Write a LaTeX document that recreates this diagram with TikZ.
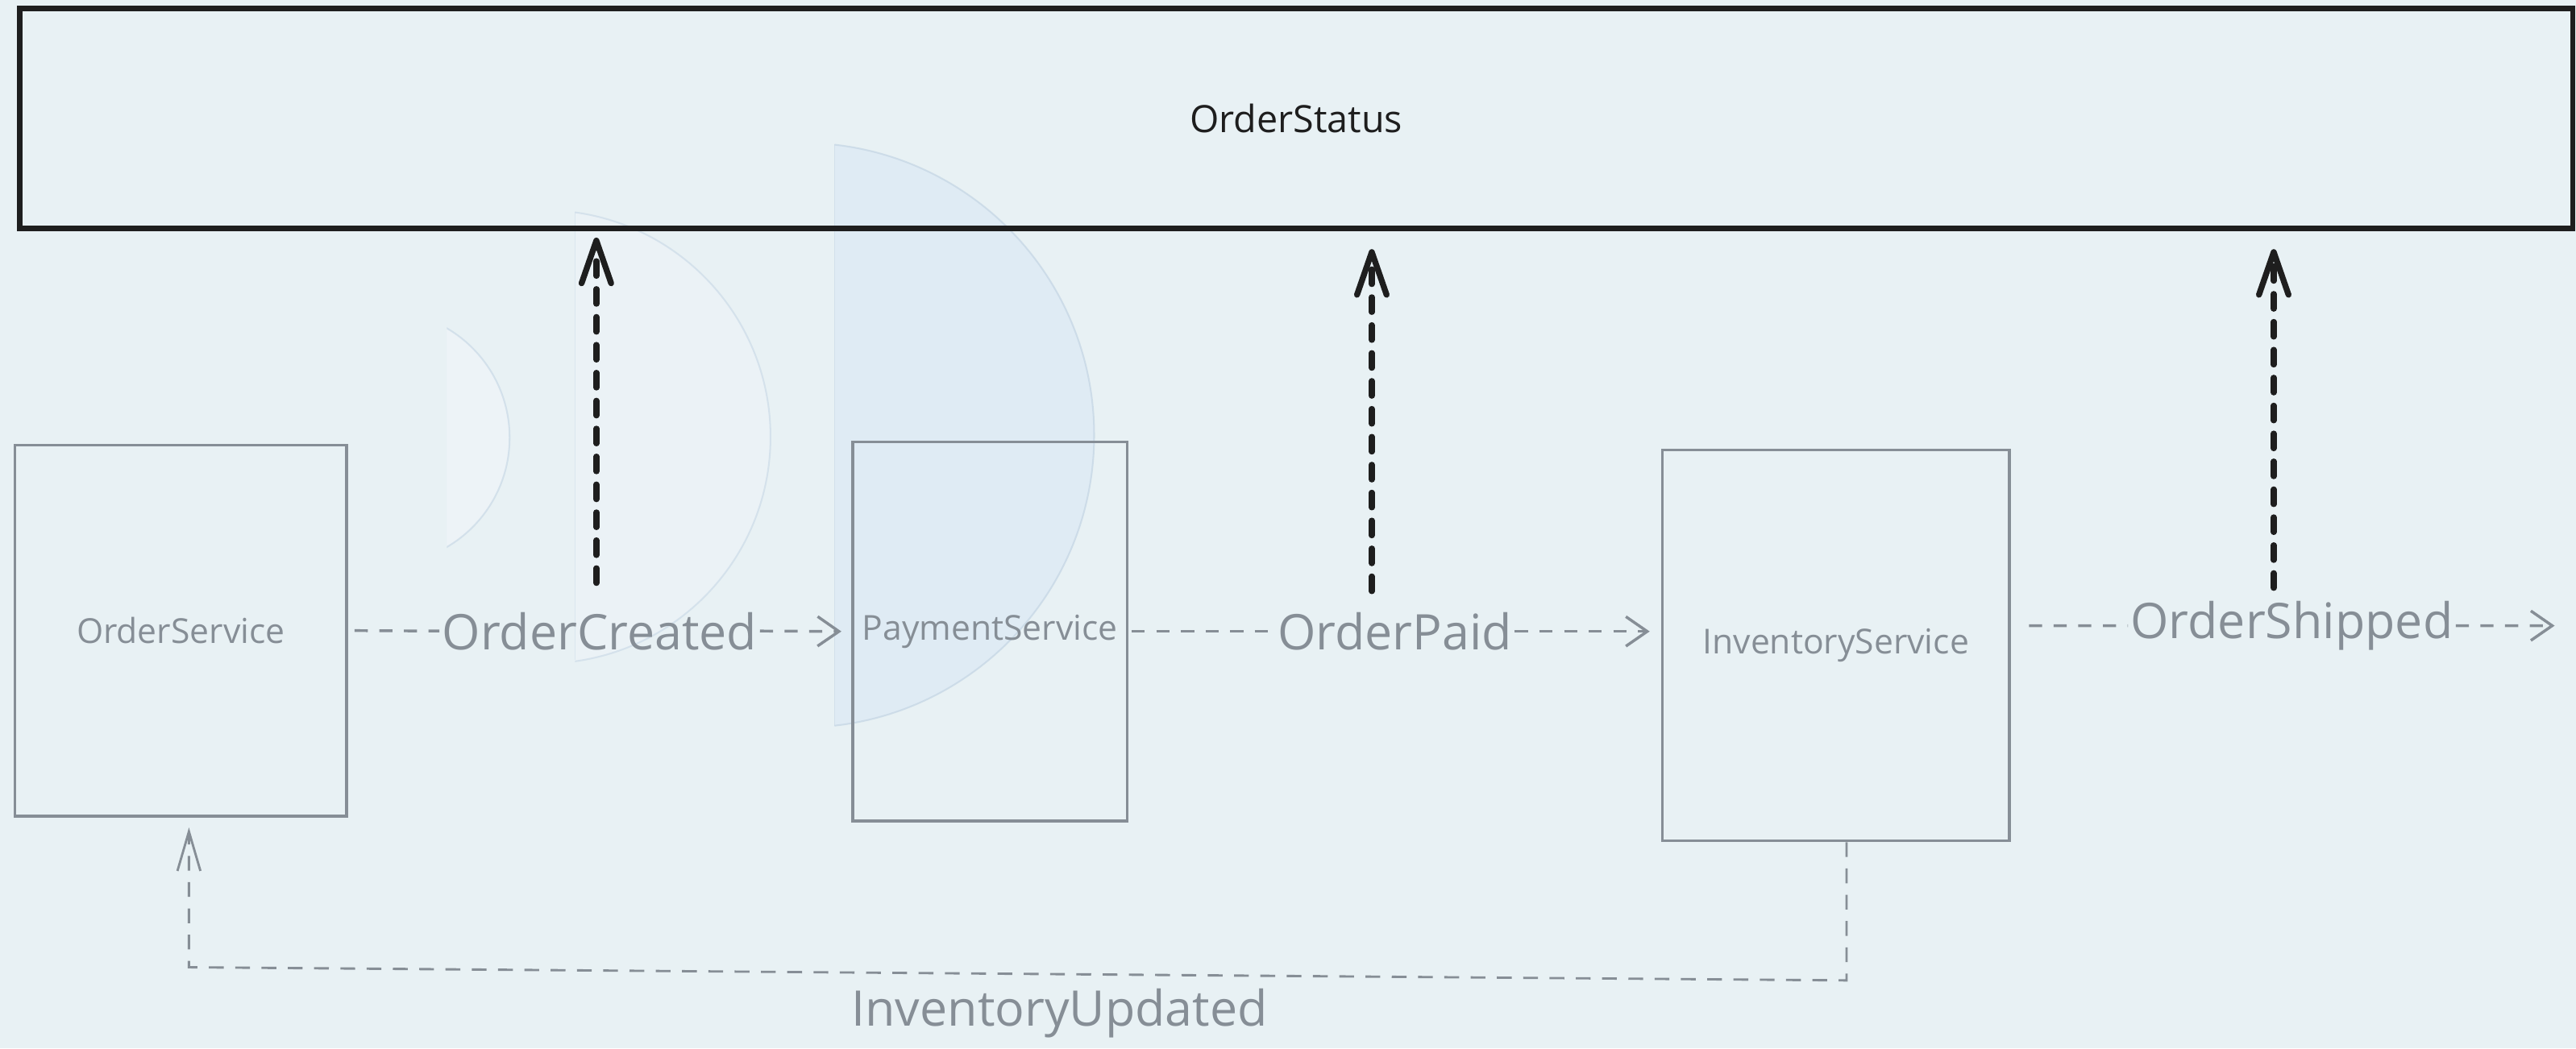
\documentclass[tikz,border=0pt]{standalone}
\usepackage{fontspec}
\setmainfont{Open Sans}
\usetikzlibrary{arrows.meta,calc}
\definecolor{bgc}{RGB}{232,241,244}
\definecolor{ink}{RGB}{30,30,30}
\definecolor{mute}{RGB}{134,142,150}
\definecolor{bubble}{RGB}{223,235,245}
\definecolor{paleb}{RGB}{238,244,248}
\definecolor{rim}{RGB}{196,213,228}
\begin{document}
\begin{tikzpicture}[x=1bp,y=-1bp,
  service/.style={draw=mute, line width=1.7bp, inner sep=0pt, text=mute,
    font=\fontsize{21}{23}\selectfont},
  statusbox/.style={draw=ink, line width=3.4bp, inner sep=0pt, text=ink,
    font=\fontsize{23}{25}\selectfont},
  evlabel/.style={text=mute, inner sep=1.5bp, font=\fontsize{30}{32}\selectfont},
  flowline/.style={draw=mute, line width=1.7bp, dash pattern=on 8bp off 7bp},
  flowarrow/.style={flowline, -{Straight Barb[length=13bp,width=18bp]}},
  feedback/.style={draw=mute, line width=1.4bp, dash pattern=on 9bp off 7bp,
    -{Straight Barb[length=24bp,width=14bp]}},
  publish/.style={draw=ink, line width=3.6bp, line cap=round,
    dash pattern=on 9bp off 8bp, -{Straight Barb[length=26bp,width=18bp,round]}},
  bubblestyle/.style={line width=1bp}
]
% canvas
\fill[bgc] (0,0) rectangle (1568,638.3);
\useasboundingbox (0,0) rectangle (1568,638.3);

% translucent half-moon shapes behind the services
\begin{scope}
  \clip (272,0) rectangle (1568,638.3);
  \filldraw[bubblestyle, fill=paleb, draw=rim, fill opacity=0.9, draw opacity=0.6] (233,266.5) circle (77.2);
\end{scope}
\begin{scope}
  \clip (350,0) rectangle (1568,638.3);
  \filldraw[bubblestyle, fill=paleb, draw=rim, fill opacity=0.6, draw opacity=0.55] (331,266) circle (138);
\end{scope}
\begin{scope}
  \clip (508,0) rectangle (1568,638.3);
  \filldraw[bubblestyle, fill=bubble, draw=rim, fill opacity=0.9, draw opacity=0.7] (488,265) circle (178);
\end{scope}
\draw[rim, line width=0.5bp, opacity=0.5] (508,88) -- (508,442);
\draw[rim, line width=0.5bp, opacity=0.4] (350,129) -- (350,402);

% status bar
\node[statusbox, minimum width=1554bp, minimum height=134bp] (status) at (789,72) {OrderStatus};

% services
\node[service, minimum width=202bp, minimum height=226bp] (os) at (110,384) {OrderService};
\node[service, minimum width=167bp, minimum height=231bp] (ps) at (602.5,384.5) {PaymentService};
\node[service, minimum width=211bp, minimum height=238bp] (is) at (1117.5,393) {InventoryService};

% event flow between services
\node[evlabel] (oc) at ($(os.east)!0.5!(ps.west)$) {OrderCreated};
\draw[flowline] ([xshift=4bp]os.east) -- (oc.west);
\draw[flowarrow] (oc.east) -- ([xshift=-6bp]ps.west);

\coordinate (paidend) at (is.west |- ps.east);
\node[evlabel] (op) at ($(ps.east)!0.5!(paidend)$) {OrderPaid};
\draw[flowline] ([xshift=2bp]ps.east) -- (op.west);
\draw[flowarrow] (op.east) -- ([xshift=-7bp]paidend);

\coordinate (shipstart) at (1235,381);
\coordinate (shipend) at (1555,381);
\node[evlabel] (osh) at ($(shipstart)!0.5!(shipend)$) {OrderShipped};
\draw[flowline] (shipstart) -- (osh.west);
\draw[flowarrow] (osh.east) -- (shipend);

% inventory feedback loop
\coordinate (iuR) at (1124,597);
\coordinate (iuL) at (115,589);
\draw[feedback] (iuR |- is.south) -- (iuR) -- (iuL) -- ([yshift=-6bp]iuL |- os.south);
\node[evlabel] (iu) at (645,617) {InventoryUpdated};

% status updates
\coordinate (up1) at (363,355);
\coordinate (up2) at (835,360);
\coordinate (up3) at (1384,358);
\draw[publish, shorten >=4bp] (up1) -- (up1 |- status.south);
\draw[publish, shorten >=11bp] (up2) -- (up2 |- status.south);
\draw[publish, shorten >=11bp] (up3) -- (up3 |- status.south);
\end{tikzpicture}
\end{document}
